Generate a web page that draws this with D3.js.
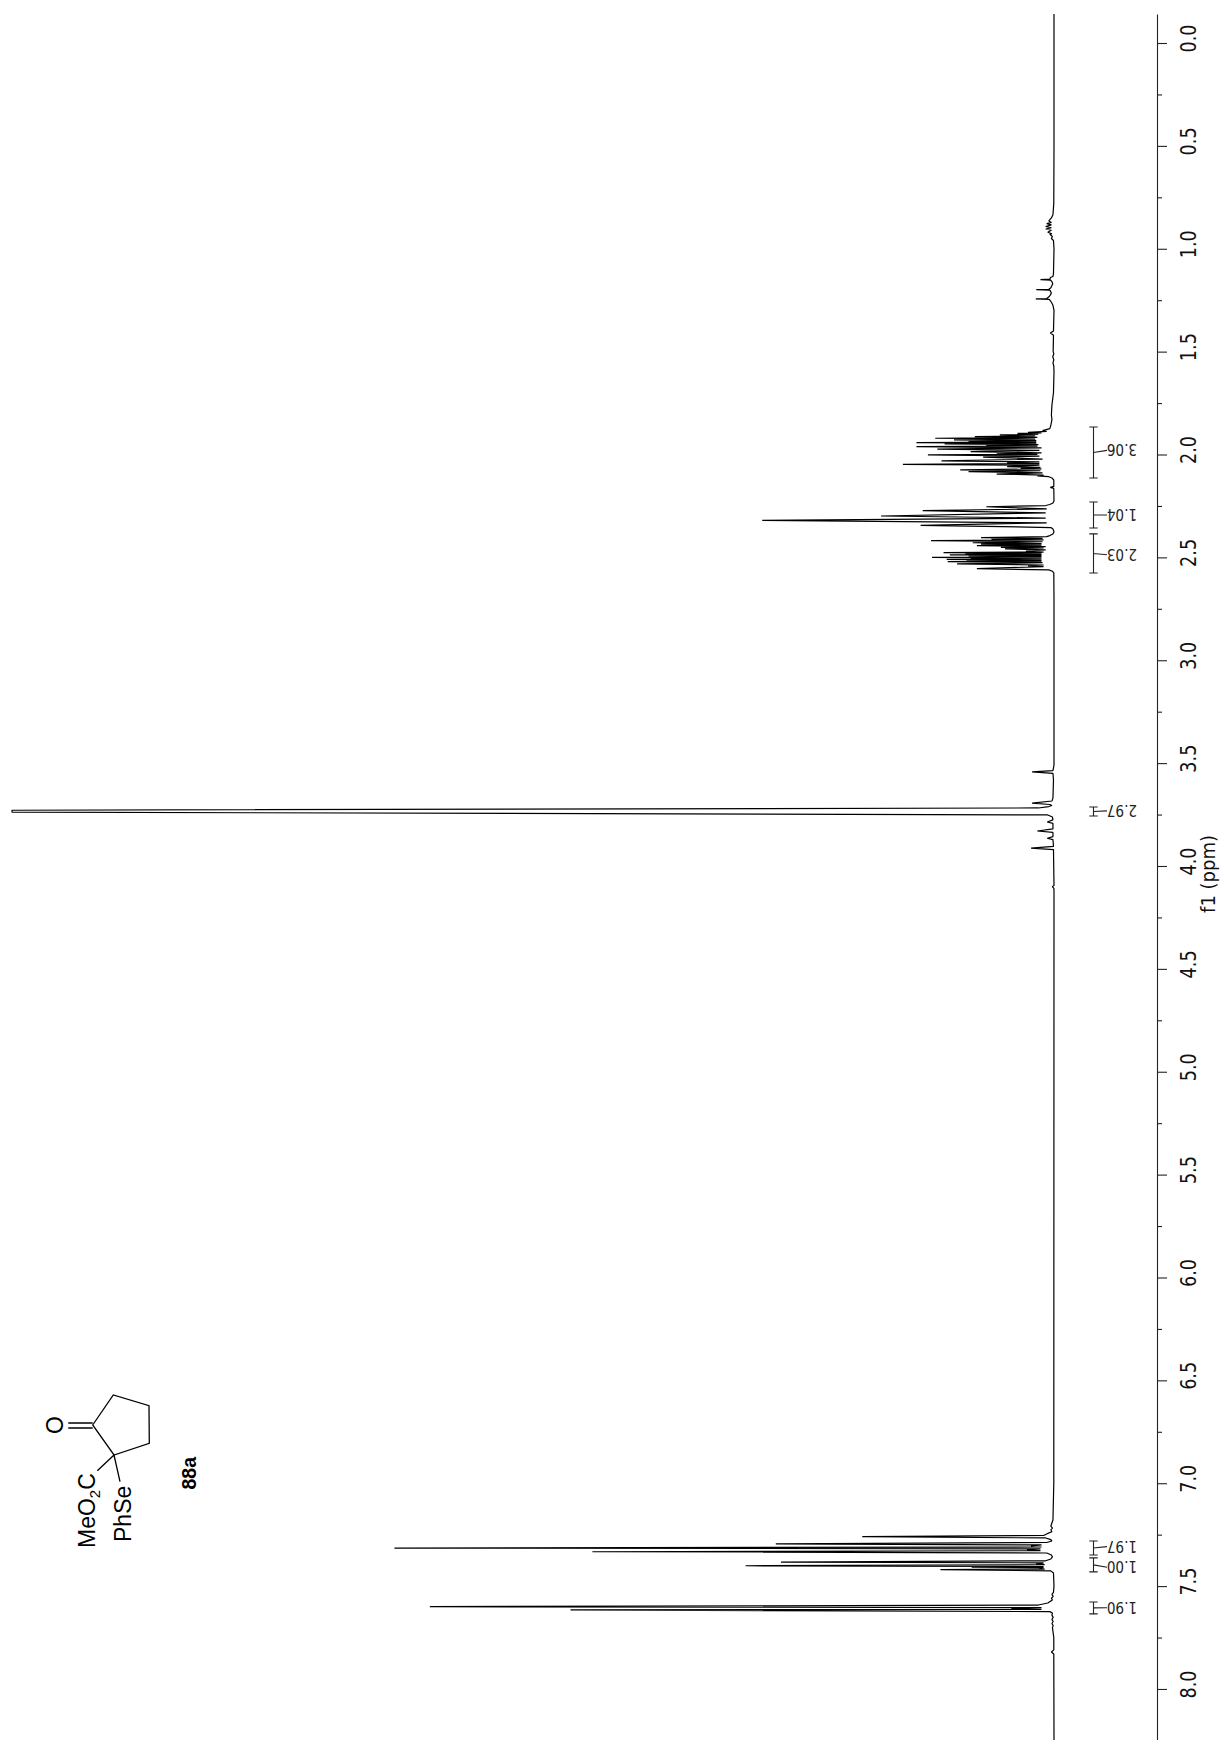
<!DOCTYPE html>
<html><head><meta charset="utf-8">
<script src="https://cdn.jsdelivr.net/npm/d3@7"></script>
<style>html,body{margin:0;padding:0;background:#fff;overflow:hidden}svg{display:block}</style>
</head><body>
<script>
// [chemical shift ppm, intensity % of tallest peak]
const upfieldPoints = [[-0.141,0],[0.5,0],[0.78,0.02],[0.80,0.05],[0.835,0.1],[0.85,0.25],[0.865,0.5],[0.872,0.25],[0.878,0.7],[0.884,0.25],[0.892,0.8],[0.898,0.25],[0.904,0.8],[0.91,0.25],[0.92,0.6],[0.927,0.2],[0.93,0.4],[0.94,0.15],[0.95,0.25],[0.96,0.05],[1.0,0],[1.12,0.05],[1.135,0.1],[1.140,0.35],[1.148,0.4],[1.150,1.3],[1.152,0.35],[1.16,0.2],[1.17,0.12],[1.19,0.3],[1.197,0.5],[1.199,1.7],[1.201,0.4],[1.215,0.25],[1.224,0.35],[1.232,0.45],[1.242,0.7],[1.244,1.75],[1.246,0.45],[1.26,0.25],[1.275,0.1],[1.30,0],[1.40,0.05],[1.41,0.35],[1.42,0.05],[1.50,0.08],[1.51,0.02],[1.525,0.12],[1.54,0.02],[1.555,0.1],[1.57,0.02],[1.60,0],[1.70,0.05],[1.76,0.2],[1.808,0.25],[1.83,0.2],[1.857,0.3]];
const multipletA = [[1.874,0.4],[1.884,1.1],[1.888,0.7],[1.892,2.5],[1.895,1.2],[1.897,3.5],[1.901,1.5],[1.905,5.2],[1.909,1.8],[1.913,7.6],[1.917,1.6],[1.921,11.4],[1.925,1.8],[1.929,9.6],[1.933,1.7],[1.937,8.2],[1.940,1.7],[1.942,13.2],[1.945,1.7],[1.948,10.5],[1.952,1.5],[1.956,6.5],[1.959,1.6],[1.962,13.2],[1.968,1.2],[1.974,11.2],[1.980,1.4],[1.986,8.0],[1.992,1.2],[1.997,5.5],[1.999,1.6],[2.002,12.1],[2.008,1.4],[2.013,6.8],[2.022,1.1],[2.031,10.8],[2.036,1.4],[2.041,4.5],[2.044,1.4],[2.048,14.5],[2.052,1.4],[2.059,4.5],[2.063,1.3],[2.066,3.2],[2.070,1.2],[2.075,9.0],[2.079,1.3],[2.083,8.2],[2.089,1.1],[2.095,5.5],[2.100,1.0],[2.104,1.6],[2.108,0.5],[2.114,0.2],[2.124,0.02],[2.155,0.02],[2.160,0.35],[2.165,0.02],[2.225,0],[2.236,0.1]];
const multipletB = [[2.243,0.4],[2.248,0.8],[2.254,6.5],[2.264,0.7],[2.273,12.6],[2.284,0.8],[2.299,16.6],[2.309,0.8],[2.320,28.0],[2.332,0.7],[2.344,12.8],[2.355,0.3],[2.362,0.1],[2.375,0],[2.386,0.1],[2.394,0.4]];
const multipletC = [[2.399,0.7],[2.404,7.0],[2.408,1.1],[2.412,6.0],[2.415,1.0],[2.419,11.8],[2.424,1.1],[2.429,7.8],[2.433,1.2],[2.436,7.0],[2.440,1.2],[2.443,7.4],[2.448,0.8],[2.451,5.1],[2.454,1.0],[2.459,4.7],[2.464,0.8],[2.470,2.7],[2.474,1.0],[2.477,10.6],[2.480,1.2],[2.483,8.5],[2.485,1.2],[2.488,10.0],[2.490,1.2],[2.493,8.2],[2.496,1.2],[2.500,11.7],[2.504,1.2],[2.507,8.0],[2.508,1.2],[2.510,10.3],[2.515,1.2],[2.518,8.4],[2.519,1.2],[2.521,10.2],[2.526,1.1],[2.532,9.3],[2.537,1.0],[2.542,2.5],[2.545,1.0],[2.555,7.4],[2.561,0.5],[2.566,0.2],[2.574,0.02]];
const esterRegion = [[2.70,0],[3.509,0],[3.536,0.1],[3.543,2.1],[3.550,0.1],[3.582,0.05],[3.670,0.1],[3.684,0.2],[3.694,2.1],[3.701,0.4],[3.706,0.2],[3.711,0.5],[3.718,1.5],[3.729,100],[3.738,100],[3.752,0.6],[3.762,0.15],[3.776,0.1],[3.786,0.65],[3.793,0.1],[3.820,0.1],[3.830,1.6],[3.837,0.1],[3.857,0.1],[3.865,0.65],[3.872,0.1],[3.905,0.05],[3.913,2.2],[3.920,0.05],[4.095,0],[4.10,0.15],[4.11,0],[7.0,0.02]];
const aromaticRegion = [[7.179,0.1],[7.208,0.3],[7.218,0.15],[7.227,0.3],[7.236,0.2],[7.244,0.6],[7.254,1.0],[7.260,18.4],[7.266,0.8],[7.274,0.3],[7.281,0.2],[7.288,0.7],[7.295,26.7],[7.300,1.2],[7.305,2.2],[7.310,1.2],[7.315,63.3],[7.319,1.3],[7.324,2.6],[7.328,1.3],[7.333,44.3],[7.339,0.7],[7.349,0.25],[7.358,0.15],[7.368,0.3],[7.377,0.8],[7.383,26.2],[7.387,1.0],[7.391,1.7],[7.396,0.9],[7.401,29.6],[7.405,1.0],[7.408,7.9],[7.410,1.0],[7.413,1.4],[7.417,0.9],[7.420,10.9],[7.426,0.3],[7.436,0.05],[7.50,0],[7.53,0.05],[7.54,0.2],[7.55,0.08],[7.56,0.25],[7.567,0.15],[7.582,0.6],[7.592,1.5],[7.600,59.9],[7.605,1.2],[7.610,4.1],[7.613,1.2],[7.616,46.4],[7.624,0.4],[7.631,0.15],[7.641,0.2],[7.652,0.08],[7.662,0.2],[7.672,0.08],[7.682,0.2],[7.692,0.08],[7.702,0.15],[7.75,0.02],[7.81,0.02],[7.82,0.25],[7.83,0.02],[8.248,0]];

const majorTicks = [0,0.5,1,1.5,2,2.5,3,3.5,4,4.5,5,5.5,6,6.5,7,7.5,8];
const minorTicks = [0.25,0.75,1.25,1.75,2.25,2.75,3.25,3.75,4.25,4.75,5.25,5.75,6.25,6.75,7.25,7.75,8.25];
const integralFrom = [1.866,2.231,2.386,3.713,7.281,7.363,7.577];
const integralTo   = [2.114,2.357,2.576,3.757,7.349,7.431,7.635];
const integralAt   = [1.98,2.294,2.487,3.732,7.308,7.408,7.605];
const integralText = ["3.06","1.04","2.03","2.97","1.97","1.00","1.90"];
const axisTitle = "f1 (ppm)";
const compoundLabel = "88a";

const W = 1223, H = 1740;
const font = "'DejaVu Sans', sans-serif";
const y = d3.scaleLinear().domain([-0.141, 8.248]).range([14, 1740]);
const x = d3.scaleLinear().domain([0, 100]).range([1054, 12]);
const svg = d3.select("body").append("svg").attr("width", W).attr("height", H).attr("viewBox",`0 0 ${W} ${H}`);
svg.append("rect").attr("width",W).attr("height",H).attr("fill","#fff");

// spectrum trace
const trace = [...upfieldPoints,...multipletA,...multipletB,...multipletC,...esterRegion,...aromaticRegion];
const line = d3.line().x(d=>x(d[1])).y(d=>y(d[0]));
svg.append("path").datum(trace).attr("d",line).attr("fill","none").attr("stroke","#000")
   .attr("stroke-width",1.2).attr("stroke-linejoin","bevel");

// axis
const axisX = 1157;
const gMajor = svg.append("g").attr("transform",`translate(${axisX},0)`)
  .call(d3.axisRight(y).tickValues(majorTicks).tickSize(10).tickSizeOuter(0).tickFormat(d3.format(".1f")));
gMajor.select(".domain").attr("stroke","#222").attr("stroke-width",1.1);
gMajor.selectAll(".tick line").attr("stroke","#222").attr("stroke-width",1.1);
gMajor.selectAll(".tick text").attr("font-family",font).attr("font-size",21.5).attr("fill","#111")
  .attr("text-anchor","middle").attr("dy",0).attr("x",0).attr("y",0)
  .attr("transform","translate(39,-5) rotate(-90) scale(.82,1)");
const gMinor = svg.append("g").attr("transform",`translate(${axisX},0)`)
  .call(d3.axisRight(y).tickValues(minorTicks).tickSize(5).tickSizeOuter(0).tickFormat(""));
gMinor.select(".domain").remove();
gMinor.selectAll(".tick line").attr("stroke","#222").attr("stroke-width",1.1);
svg.append("text").attr("transform",`translate(1215,874) rotate(-90) scale(.9,1)`).attr("text-anchor","middle")
  .attr("font-family",font).attr("font-size",20).attr("fill","#111").text(axisTitle);

// integrals
const spine = 1093.5;
const gInt = svg.append("g").attr("stroke","#222").attr("stroke-width",1.1).attr("fill","none");
integralText.forEach((t,i)=>{
  const a=y(integralFrom[i]), b=y(integralTo[i]), m=(a+b)/2, l=y(integralAt[i]);
  gInt.append("path").attr("d",`M${spine-4.2},${a}H${spine+4.2}M${spine},${a}V${b}M${spine-4.2},${b}H${spine+4.2}M${spine},${m}L1107,${l}`);
  svg.append("text").attr("transform",`translate(1137,${l-6}) rotate(180) scale(.82,1)`)
    .attr("font-family",font).attr("font-size",16.5).attr("fill","#222").text(t);
});

// compound structure
const gS = svg.append("g").attr("stroke","#000").attr("stroke-width",1.3).attr("fill","none").attr("stroke-linejoin","miter");
gS.append("path").attr("d","M92.7,1425L113.3,1395L149,1405.7L149.3,1443.3L114,1455Z");
gS.append("path").attr("d","M68.3,1423L92.7,1423M68.3,1428L92.7,1428");
gS.append("path").attr("d","M114,1455L97.3,1470.7M114,1455L120,1481.7");
const chem = "'Liberation Sans', Arial, sans-serif";
const tx=(px,py,s,size,w)=>svg.append("text").attr("transform",`translate(${px},${py}) rotate(-90)`)
  .attr("font-family",chem).attr("font-size",size).attr("font-weight",w||400).attr("fill","#000");
tx(63,1425,"",23).attr("text-anchor","middle").text("O");
const mt=tx(95,1548,"",23);
mt.append("tspan").text("MeO");
mt.append("tspan").attr("font-size",15).attr("dy",5).text("2");
mt.append("tspan").attr("dy",-5).text("C");
tx(131,1542,"",23).text("PhSe");
tx(196,1489.5,"",19.5,700).text(compoundLabel);
</script>
</body></html>
